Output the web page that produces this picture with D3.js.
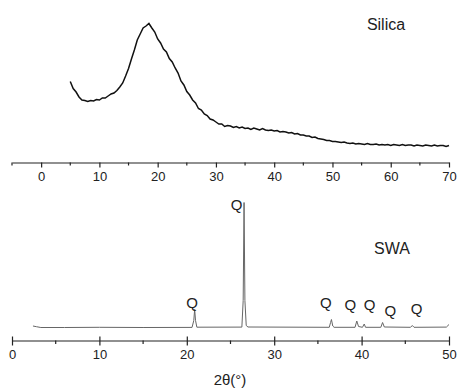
<!DOCTYPE html>
<html>
<head>
<meta charset="utf-8">
<script src="https://cdn.jsdelivr.net/npm/d3@7"></script>
<style>
  body { margin: 0; background: #fff; }
  svg { display: block; }
  text { font-family: "Liberation Sans", Arial, sans-serif; fill: #222; }
</style>
</head>
<body>
<svg id="chart" width="458" height="390"></svg>
<script>
// silica pattern: [2theta, intensity (a.u.)]
var silicaData = [
  [5.0,81],[5.5,74],[6.0,70.5],[6.5,65.5],[7.0,62.5],[7.5,62],[8.0,61],[8.5,62],[9.0,61.5],[9.5,63],
  [10.0,62.5],[10.5,64.5],[11.0,64.5],[11.5,66.5],[12.0,68.5],[12.5,69.5],[13.0,72],[13.5,75.5],[14.0,79.5],[14.5,86.5],
  [15.0,94],[15.5,103.5],[16.0,112.5],[16.5,122.5],[17.0,128.5],[17.5,134.5],[18.0,136.5],[18.5,139],[19.0,134.5],[19.5,130.5],
  [20.0,123.5],[20.5,119.5],[21.0,113.5],[21.5,110.5],[22.0,104],[22.5,100.5],[23.0,94.5],[23.5,89.5],[24.0,81.5],[24.5,77.5],
  [25.0,71],[25.5,67.5],[26.0,62.5],[26.5,59.5],[27.0,54],[27.5,52.5],[28.0,48.5],[28.5,47],[29.0,43.5],[29.5,42.5],
  [30.0,40.5],[30.5,38.5],[31.0,38.5],[31.5,36],[32.0,37],[32.5,36.5],[33.0,35],[33.5,36],[34.0,34.5],[34.5,35.5],
  [35.0,34],[35.5,34.5],[36.0,33],[36.5,34.5],[37.0,33.5],[37.5,32.5],[38.0,34],[38.5,32.5],[39.0,32],[39.5,32.5],
  [40.0,31.5],[40.5,32],[41.0,30.5],[41.5,31],[42.0,30.5],[42.5,29.5],[43.0,30],[43.5,28.5],[44.0,29],[44.5,27.5],
  [45.0,27.5],[45.5,26.5],[46.0,26.5],[46.5,25],[47.0,25.5],[47.5,24],[48.0,23.5],[48.5,23],[49.0,22],[49.5,22],
  [50.0,21],[50.5,21],[51.0,20.5],[51.5,20],[52.0,20.5],[52.5,19.5],[53.0,19],[53.5,19.5],[54.0,18.5],[54.5,19],
  [55.0,18.5],[55.5,18],[56.0,19],[56.5,18],[57.0,18],[57.5,18.5],[58.0,17.5],[58.5,18],[59.0,17.5],[59.5,18],
  [60.0,17],[60.5,18],[61.0,17.5],[61.5,17],[62.0,18],[62.5,17],[63.0,17.5],[63.5,17.5],[64.0,16.5],[64.5,17.5],
  [65.0,17],[65.5,16.5],[66.0,17.5],[66.5,17],[67.0,16.5],[67.5,17.5],[68.0,16.5],[68.5,17],[69.0,17],[69.5,16],
  [70.0,17]
];

// SWA pattern: [2theta, intensity (a.u.)]
var swaData = [
  [2.4,14.5],[2.8,13.8],[3.3,13],[6,13],[10,13.2],[15,13],[20.6,13.1],
  [20.8,20],[20.9,31],[21.0,20],[21.15,13.3],
  [26.3,13.4],[26.45,40],[26.55,138],[26.65,40],[26.8,15],[27.0,13.5],
  [36.3,13.2],[36.45,18],[36.55,21],[36.7,14.5],[36.85,13.2],
  [39.25,13.2],[39.45,19.5],[39.65,14],[40.1,13.2],[40.3,16.5],[40.45,13.2],
  [42.2,13.2],[42.4,18],[42.6,13.5],
  [45.6,13.2],[45.8,15],[46.0,13.2],
  [49.7,13.4],[50,16]
];

// peak markers (quartz)
var qLabels = [[20.6,33],[25.7,131],[35.9,33],[38.7,31],[40.9,31],[43.3,25],[46.3,27]];

var silicaMajor = [0,10,20,30,40,50,60,70];
var silicaMinor = [-5,5,15,25,35,45,55,65];
var swaMajor = [0,10,20,30,40,50];
var swaMinor = [5,15,25,35,45];

var svg = d3.select("#chart");

// ---- top panel: silica
var x1 = d3.scaleLinear().domain([-5, 70]).range([12, 449]);
var y1 = d3.scaleLinear().domain([0, 150]).range([162.5, 12.5]);

var topPanel = svg.append("g");

topPanel.append("path")
    .datum(silicaData)
    .attr("fill", "none")
    .attr("stroke", "#111")
    .attr("stroke-width", 1.5)
    .attr("d", d3.line().x(function (d) { return x1(d[0]); }).y(function (d) { return y1(d[1]); }));

var ax1 = topPanel.append("g")
    .attr("transform", "translate(0,162.5)")
    .call(d3.axisBottom(x1).tickValues(silicaMajor).tickSize(5).tickPadding(4).tickSizeOuter(0));
ax1.select(".domain").attr("stroke", "#222").attr("stroke-width", 1.2);
ax1.selectAll(".tick line").attr("stroke", "#222").attr("stroke-width", 1.2);
ax1.selectAll(".tick text").style("font-size", "13px").attr("fill", "#222");

topPanel.selectAll(".minor1")
    .data(silicaMinor)
    .enter().append("line")
    .attr("x1", function (d) { return x1(d); })
    .attr("x2", function (d) { return x1(d); })
    .attr("y1", 162.5).attr("y2", 165.5)
    .attr("stroke", "#222").attr("stroke-width", 1.2);

topPanel.append("text")
    .attr("x", 386).attr("y", 30)
    .attr("text-anchor", "middle")
    .style("font-size", "16px")
    .text("Silica");

// ---- bottom panel: SWA
var x2 = d3.scaleLinear().domain([0, 50]).range([12, 449]);
var y2 = d3.scaleLinear().domain([0, 140]).range([340.5, 200.5]);

var botPanel = svg.append("g");

botPanel.append("path")
    .datum(swaData)
    .attr("fill", "none")
    .attr("stroke", "#666")
    .attr("stroke-width", 1)
    .attr("d", d3.line().x(function (d) { return x2(d[0]); }).y(function (d) { return y2(d[1]); }));

var ax2 = botPanel.append("g")
    .attr("transform", "translate(0,340.5)")
    .call(d3.axisBottom(x2).tickValues(swaMajor).tickSize(5).tickPadding(4).tickSizeOuter(0));
ax2.select(".domain").attr("stroke", "#222").attr("stroke-width", 1.2);
ax2.selectAll(".tick line").attr("y1", -4).attr("stroke", "#222").attr("stroke-width", 1.2);
ax2.selectAll(".tick text").style("font-size", "13px").attr("fill", "#222");

botPanel.selectAll(".minor2")
    .data(swaMinor)
    .enter().append("line")
    .attr("x1", function (d) { return x2(d); })
    .attr("x2", function (d) { return x2(d); })
    .attr("y1", 340.5).attr("y2", 344)
    .attr("stroke", "#222").attr("stroke-width", 1.2);

botPanel.selectAll(".q")
    .data(qLabels)
    .enter().append("text")
    .attr("x", function (d) { return x2(d[0]); })
    .attr("y", function (d) { return y2(d[1]); })
    .attr("text-anchor", "middle")
    .style("font-size", "15px")
    .text("Q");

botPanel.append("text")
    .attr("x", 392).attr("y", 254)
    .attr("text-anchor", "middle")
    .style("font-size", "16px")
    .text("SWA");

botPanel.append("text")
    .attr("x", 230).attr("y", 385)
    .attr("text-anchor", "middle")
    .style("font-size", "15px")
    .text("2\u03b8(\u00b0)");
</script>
</body>
</html>
